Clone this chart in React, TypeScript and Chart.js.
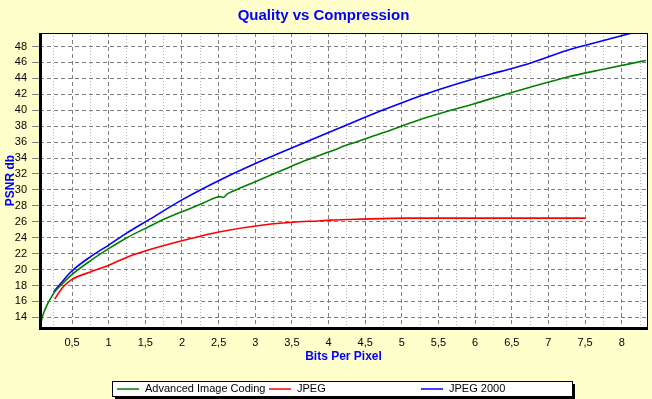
import React, { useEffect, useRef } from 'react';
import { Chart, registerables } from 'chart.js';

Chart.register(...registerables);

const chartTitle = 'Quality vs Compression';
const xTitle = 'Bits Per Pixel';
const yTitle = 'PSNR db';

const seriesNames = ['Advanced Image Coding', 'JPEG', 'JPEG 2000'];
const seriesColors = ['#008000', '#ff0000', '#0000ff'];

const aicBpp = [0.065, 0.09, 0.128, 0.17, 0.21, 0.264, 0.377, 0.49, 0.75, 1.005, 1.25, 1.54, 1.8, 2.08, 2.3, 2.45, 2.52, 2.56, 2.62, 2.7, 2.85, 3.11, 3.4, 3.7, 4.0, 4.29, 4.75, 5.25, 5.52, 6.0, 6.34, 6.75, 7.25, 7.75, 8.33];
const aicPsnr = [12.7, 13.9, 14.9, 15.75, 16.4, 17.2, 18.3, 19.3, 21.1, 22.65, 24.0, 25.35, 26.5, 27.55, 28.4, 29.0, 29.15, 29.05, 29.5, 29.85, 30.45, 31.45, 32.6, 33.75, 34.75, 35.75, 37.2, 38.85, 39.6, 40.85, 41.8, 42.9, 44.15, 45.15, 46.25];

const jpegBpp = [0.264, 0.377, 0.49, 0.75, 1.005, 1.25, 1.54, 2.08, 2.52, 3.11, 3.6, 3.86, 4.02, 4.44, 5.07, 7.5];
const jpegPsnr = [16.3, 17.8, 18.7, 19.7, 20.55, 21.55, 22.45, 23.8, 24.75, 25.6, 26.0, 26.1, 26.2, 26.33, 26.45, 26.45];

const j2kBpp = [0.25, 0.377, 0.49, 0.75, 1.005, 1.25, 1.54, 2.0, 2.52, 3.11, 3.7, 4.156, 4.75, 5.25, 5.52, 6.0, 6.34, 6.75, 7.25, 7.52, 8.14, 8.3];
const j2kPsnr = [17.2, 18.6, 19.75, 21.6, 23.1, 24.6, 26.2, 28.75, 31.25, 33.75, 36.05, 37.8, 40.05, 41.8, 42.65, 44.0, 44.85, 45.9, 47.5, 48.2, 49.7, 50.1];

const xTickValues = [0.25, 0.5, 0.75, 1, 1.25, 1.5, 1.75, 2, 2.25, 2.5, 2.75, 3, 3.25, 3.5, 3.75, 4, 4.25, 4.5, 4.75, 5, 5.25, 5.5, 5.75, 6, 6.25, 6.5, 6.75, 7, 7.25, 7.5, 7.75, 8, 8.25];
const yTickValues = [14, 16, 18, 20, 22, 24, 26, 28, 30, 32, 34, 36, 38, 40, 42, 44, 46, 48];

const xMin = 0.063;
const xMax = 8.345;
const yMin = 12.66;
const yMax = 49.7;

const toPoints = (xs: number[], ys: number[]) => xs.map((x, i) => ({ x, y: ys[i] }));
const isMajorX = (v: number) => Math.abs(v * 2 - Math.round(v * 2)) < 1e-6;
const fmtX = (v: number) => String(v).replace('.', ',');

const FONT = '"Liberation Sans", Arial, sans-serif';

const framePlugin = {
  id: 'frameAndLegend',
  beforeDraw(chart: any) {
    const { ctx, chartArea: a, width, height } = chart;
    ctx.save();
    ctx.fillStyle = '#ffffcc';
    ctx.fillRect(0, 0, width, height);
    ctx.fillStyle = '#ffffff';
    ctx.fillRect(a.left, a.top, a.right - a.left, a.bottom - a.top);
    ctx.restore();
  },
  afterDraw(chart: any) {
    const { ctx, chartArea: a } = chart;
    ctx.save();
    ctx.strokeStyle = '#000';
    ctx.lineWidth = 1;
    ctx.strokeRect(Math.round(a.left) + 0.5, Math.round(a.top) + 0.5, Math.round(a.right - a.left), Math.round(a.bottom - a.top));
    ctx.fillStyle = '#000';
    ctx.fillRect(Math.round(a.left) - 1, Math.round(a.top), 3, Math.round(a.bottom - a.top) + 2);
    ctx.fillRect(Math.round(a.left) - 1, Math.round(a.bottom) - 1, Math.round(a.right - a.left) + 2, 3);

    const bx = 112, by = 381, bw = 460, bh = 15;
    ctx.fillStyle = '#000';
    ctx.fillRect(bx + 3, by + 3, bw, bh);
    ctx.fillStyle = '#fff';
    ctx.fillRect(bx, by, bw, bh);
    ctx.strokeStyle = '#000';
    ctx.lineWidth = 1;
    ctx.strokeRect(bx + 0.5, by + 0.5, bw, bh);
    const itemW = 152;
    const cy = by + bh / 2 + 0.5;
    ctx.font = '11px ' + FONT;
    ctx.textBaseline = 'middle';
    ctx.textAlign = 'left';
    chart.data.datasets.forEach((ds: any, i: number) => {
      const x0 = bx + 5 + i * itemW;
      ctx.strokeStyle = ds.borderColor;
      ctx.lineWidth = 1.5;
      ctx.beginPath();
      ctx.moveTo(x0, cy);
      ctx.lineTo(x0 + 22, cy);
      ctx.stroke();
      ctx.fillStyle = '#000';
      ctx.fillText(ds.label, x0 + 28, cy);
    });
    ctx.restore();
  },
};

export default function App() {
  const ref = useRef<HTMLCanvasElement | null>(null);
  useEffect(() => {
    document.body.style.margin = '0';
    const canvas = ref.current;
    if (!canvas) return;
    const datasets = [
      { label: seriesNames[0], data: toPoints(aicBpp, aicPsnr), borderColor: seriesColors[0] },
      { label: seriesNames[1], data: toPoints(jpegBpp, jpegPsnr), borderColor: seriesColors[1] },
      { label: seriesNames[2], data: toPoints(j2kBpp, j2kPsnr), borderColor: seriesColors[2] },
    ].map((d) => ({
      ...d,
      borderWidth: 1.6,
      pointRadius: 0,
      cubicInterpolationMode: 'monotone',
      fill: false,
      backgroundColor: d.borderColor,
    }));

    const chart = new Chart(canvas, {
      type: 'line',
      data: { datasets },
      plugins: [framePlugin],
      options: {
        responsive: false,
        animation: false,
        layout: { padding: { left: 0, right: 5, top: 0, bottom: 31 } },
        plugins: {
          legend: { display: false },
          tooltip: { enabled: false },
          title: {
            display: true,
            text: chartTitle,
            color: '#0000ff',
            font: { family: FONT, size: 15, weight: 'bold' },
            padding: { top: 7, bottom: 8 },
          },
        },
        scales: {
          x: {
            type: 'linear',
            min: xMin,
            max: xMax,
            afterBuildTicks: (s: any) => {
              s.ticks = xTickValues.map((value) => ({ value }));
            },
            afterFit: (s: any) => {
              s.height = 40;
            },
            ticks: {
              autoSkip: false,
              maxRotation: 0,
              color: '#000',
              padding: 8,
              font: { family: FONT, size: 11 },
              callback: (v: any) => (isMajorX(Number(v)) ? fmtX(Number(v)) : ''),
            },
            grid: {
              drawTicks: false,
              lineWidth: 1,
              color: (c: any) => (c.tick && isMajorX(c.tick.value) ? '#808080' : '#b4b4b4'),
            },
            border: {
              display: false,
              dash: (c: any) => (c.tick && isMajorX(c.tick.value) ? [4, 3] : [1, 2]),
            },
            title: {
              display: true,
              text: xTitle,
              color: '#0000ff',
              font: { family: FONT, size: 12, weight: 'bold' },
              padding: { top: 0, bottom: 4 },
            },
          },
          y: {
            type: 'linear',
            min: yMin,
            max: yMax,
            afterBuildTicks: (s: any) => {
              s.ticks = yTickValues.map((value) => ({ value }));
            },
            afterFit: (s: any) => {
              s.width = 40;
            },
            ticks: {
              autoSkip: false,
              color: '#000',
              padding: 5,
              font: { family: FONT, size: 11 },
              callback: (v: any) => String(v),
            },
            grid: {
              drawTicks: true,
              tickLength: 8,
              lineWidth: 1,
              color: '#808080',
            },
            border: { display: false, dash: [4, 3] },
            title: {
              display: true,
              text: yTitle,
              color: '#0000ff',
              font: { family: FONT, size: 12, weight: 'bold' },
              padding: { top: 3, bottom: 0 },
            },
          },
        },
      },
    } as any);
    return () => chart.destroy();
  }, []);
  return <canvas ref={ref} width={652} height={399} style={{ display: 'block' }} />;
}
